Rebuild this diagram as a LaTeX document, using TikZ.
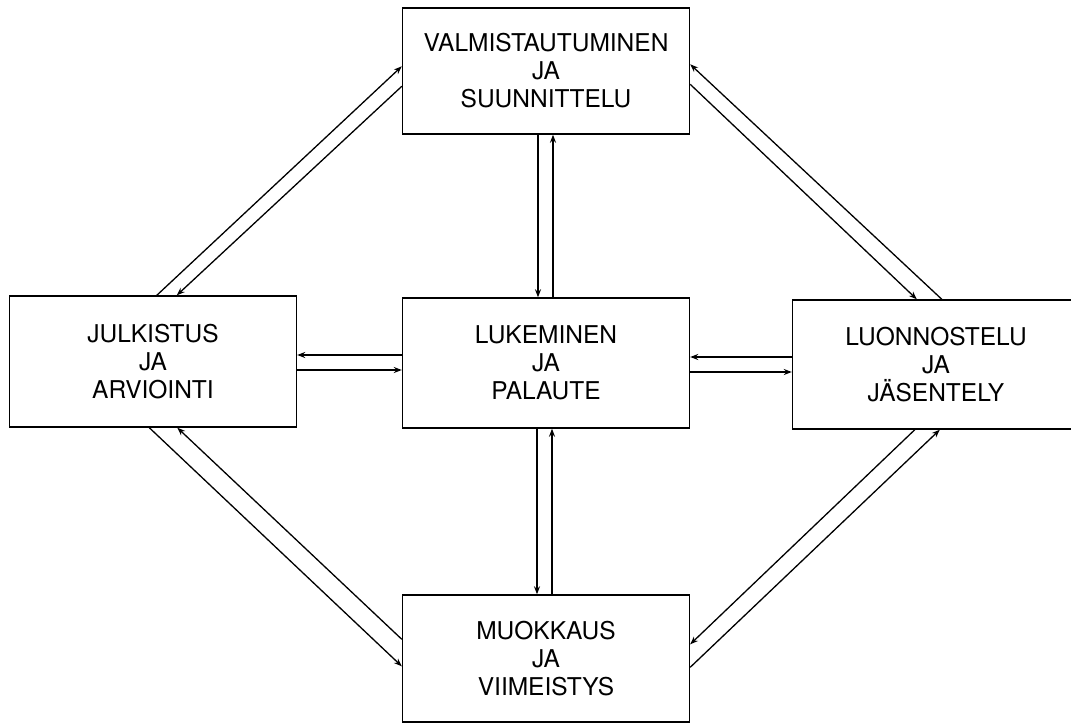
\documentclass[tikz,border=0pt]{standalone}
\usepackage{fontspec}
\setmainfont{TeX Gyre Heros}
\usetikzlibrary{arrows.meta}
\begin{document}
\begin{tikzpicture}[x=1pt,y=-1pt,
  box/.style={draw,line width=1.4pt,inner sep=0pt,align=center,
    minimum width=287pt,minimum height=128pt,
    font=\fontsize{24.5}{28}\selectfont},
  arr/.style={line width=1.3pt,-{Stealth[length=8pt,width=6pt]}}]
\useasboundingbox (0,0) rectangle (1071,725);
\clip (0,0) rectangle (1071,725);
\node[box,minimum height=126pt] (T) at (546,71) {VALMISTAUTUMINEN\\JA\\SUUNNITTELU};
\node[box,minimum height=131pt] (L) at (153,361.5) {JULKISTUS\\JA\\ARVIOINTI};
\node[box,minimum height=130pt] (C) at (546,363) {LUKEMINEN\\JA\\PALAUTE};
\node[box,minimum height=129pt] (R) at (936,364.5) {LUONNOSTELU\\JA\\JÄSENTELY};
\node[box,minimum height=127pt] (B) at (546,658.5) {MUOKKAUS\\JA\\VIIMEISTYS};
% diagonal: left <-> top
\draw[arr] ([xshift=148pt]L.north west) -- ([yshift=-59pt]T.north west);
\draw[arr] ([yshift=-79pt]T.north west) -- ([xshift=168pt]L.north west);
% diagonal: right <-> top
\draw[arr] ([xshift=150pt]R.north west) -- ([yshift=-57pt]T.north east);
\draw[arr] ([yshift=-77pt]T.north east) -- ([xshift=125pt]R.north west);
% diagonal: left <-> bottom
\draw[arr] ([xshift=140.5pt]L.south west) -- ([yshift=-72pt]B.north west);
\draw[arr] ([yshift=-45pt]B.north west) -- ([xshift=168.5pt]L.south west);
% diagonal: right <-> bottom
\draw[arr] ([xshift=123pt]R.south west) -- ([yshift=-50pt]B.north east);
\draw[arr] ([yshift=-73pt]B.north east) -- ([xshift=148pt]R.south west);
% vertical: top <-> center
\path ([xshift=-8pt]T.south) coordinate (tc1) ([xshift=7pt]T.south) coordinate (tc2);
\draw[arr] (tc1) -- (tc1 |- C.north);
\draw[arr] (tc2 |- C.north) -- (tc2);
% vertical: center <-> bottom
\path ([xshift=-9pt]C.south) coordinate (cb1) ([xshift=6pt]C.south) coordinate (cb2);
\draw[arr] (cb1) -- (cb1 |- B.north);
\draw[arr] (cb2 |- B.north) -- (cb2);
% horizontal: left <-> center
\path ([yshift=8pt]C.west) coordinate (lc1) ([yshift=-7pt]C.west) coordinate (lc2);
\draw[arr] (lc1) -- (lc1 -| L.east);
\draw[arr] (lc2 -| L.east) -- (lc2);
% horizontal: center <-> right
\path ([yshift=6pt]C.east) coordinate (cr1) ([yshift=-9pt]C.east) coordinate (cr2);
\draw[arr] (cr1 -| R.west) -- (cr1);
\draw[arr] (cr2) -- (cr2 -| R.west);
\end{tikzpicture}
\end{document}
